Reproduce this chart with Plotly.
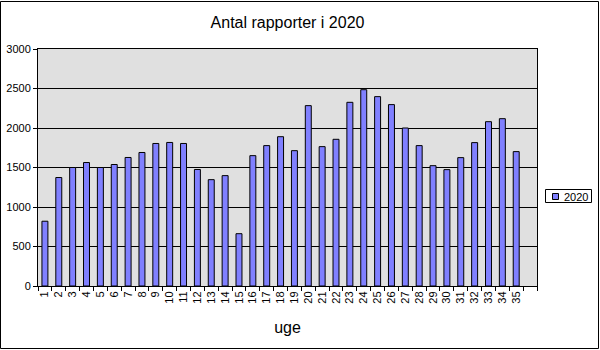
import plotly.graph_objects as go

weeks = list(range(1, 36))
week_labels = [str(w) for w in weeks]
reports_2020 = [820, 1373, 1500, 1563, 1500, 1538, 1627, 1690, 1804, 1817,
                1804, 1475, 1346, 1397, 662, 1650, 1777, 1890, 1713, 2283,
                1764, 1857, 2325, 2485, 2397, 2296, 2000, 1777, 1523, 1473,
                1625, 1815, 2080, 2118, 1701]
series_name = "2020"
y_ticks = [0, 500, 1000, 1500, 2000, 2500, 3000]
bar_color = "#8080FF"

L, R, T, B = 38, 63, 49, 64
W, H = 600, 350
pw, ph = W - L - R, H - T - B


def px_x(p):
    return (p - L) / pw


def px_y(p):
    return (H - B - p) / ph


fig = go.Figure()
fig.add_trace(go.Bar(
    x=weeks, y=reports_2020, name=series_name, width=0.43,
    marker=dict(color=bar_color, line=dict(color="black", width=1)),
    showlegend=False,
))

fig.update_layout(
    width=W, height=H,
    margin=dict(l=L, r=R, t=T, b=B, pad=0, autoexpand=False),
    paper_bgcolor="white", plot_bgcolor="#E0E0E0",
    font=dict(family="Arial, Liberation Sans, sans-serif", color="black", size=11),
    title=dict(text="Antal rapporter i 2020", x=0.5, xref="paper", xanchor="center",
               y=1 - 22.5 / H, yanchor="middle", font=dict(size=16)),
    showlegend=False,
    bargap=0.5,
)
fig.update_xaxes(
    range=[0.5, 36.5], tickmode="array", tickvals=weeks, ticktext=week_labels,
    tickangle=-90, ticks="", showgrid=False, zeroline=False,
    showline=True, linecolor="black", linewidth=1, mirror=True,
    minor=dict(tick0=0.5, dtick=1, ticks="outside", ticklen=4, tickcolor="black",
               showgrid=False),
    title=dict(text="uge", font=dict(size=16), standoff=19),
    tickfont=dict(size=11),
)
fig.update_yaxes(
    range=[0, 3000], tickmode="array", tickvals=y_ticks,
    ticks="outside", ticklen=4, tickcolor="black",
    showgrid=True, gridcolor="black", gridwidth=1,
    zeroline=False, showline=True, linecolor="black", linewidth=1, mirror=True,
    tickfont=dict(size=11),
)
# outer chart border
fig.add_shape(type="rect", xref="paper", yref="paper",
              x0=px_x(0.5), x1=px_x(W - 1.5), y0=px_y(H - 1.5), y1=px_y(1.5),
              line=dict(color="black", width=1), layer="above")
# legend box
fig.add_shape(type="rect", xref="paper", yref="paper",
              x0=px_x(545.5), x1=px_x(591.5), y0=px_y(202.5), y1=px_y(189.5),
              fillcolor="white", line=dict(color="black", width=1), layer="above")
fig.add_shape(type="rect", xref="paper", yref="paper",
              x0=px_x(552.5), x1=px_x(558.5), y0=px_y(199.5), y1=px_y(193.5),
              fillcolor=bar_color, line=dict(color="black", width=1), layer="above")
fig.add_annotation(text=series_name, xref="paper", yref="paper",
                   x=px_x(562), y=px_y(196.5), xanchor="left", yanchor="middle",
                   showarrow=False, font=dict(size=11))

fig.write_html("out.html")
